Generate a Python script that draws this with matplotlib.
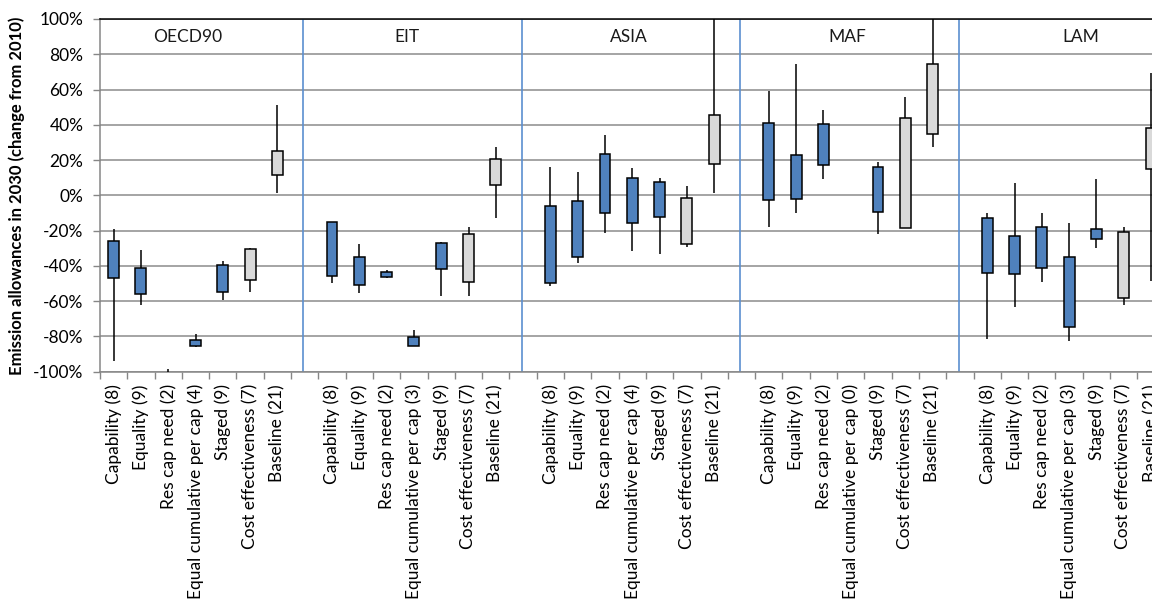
import matplotlib.pyplot as plt
import numpy as np

plt.rcParams['font.family'] = ['Lato', 'DejaVu Sans']

regions = ['OECD90', 'EIT', 'ASIA', 'MAF', 'LAM']
categories = ['Capability', 'Equality', 'Res cap need', 'Equal cumulative per cap',
              'Staged', 'Cost effectiveness', 'Baseline']
counts = {
    'OECD90': [8, 9, 2, 4, 9, 7, 21],
    'EIT':    [8, 9, 2, 3, 9, 7, 21],
    'ASIA':   [8, 9, 2, 4, 9, 7, 21],
    'MAF':    [8, 9, 2, 0, 9, 7, 21],
    'LAM':    [8, 9, 2, 3, 9, 7, 21],
}

# whisker low, box low, box high, whisker high (% change from 2010)
wlow = {
    'OECD90': [-93.7, -62.2, -110, -86.0, -59.3, -55.0, 1.2],
    'EIT':    [-49.9, -55.5, -47.0, -85.4, -56.9, -57.1, -13.0],
    'ASIA':   [-51.4, -38.2, -21.5, -31.4, -33.4, -29.4, 1.5],
    'MAF':    [-17.8, -9.8, 9.1, np.nan, -22.1, -18.3, 27.6],
    'LAM':    [-81.6, -63.1, -48.9, -82.4, -30.0, -62.2, -48.4],
}
blow = {
    'OECD90': [-47.0, -55.9, -104, -85.4, -54.8, -48.2, 11.5],
    'EIT':    [-45.7, -50.8, -46.1, -85.4, -41.8, -48.9, 5.9],
    'ASIA':   [-49.5, -34.8, -10.2, -15.5, -12.1, -27.8, 17.8],
    'MAF':    [-2.6, -1.9, 17.0, np.nan, -9.3, -18.3, 34.8],
    'LAM':    [-44.2, -44.8, -41.4, -74.8, -24.9, -58.4, 14.8],
}
bhigh = {
    'OECD90': [-25.9, -41.4, -100.5, -82.2, -39.5, -30.6, 25.2],
    'EIT':    [-14.9, -35.1, -43.3, -80.1, -26.8, -21.9, 20.5],
    'ASIA':   [-6.0, -3.4, 23.3, 9.7, 7.4, -1.5, 45.6],
    'MAF':    [40.9, 22.9, 40.5, np.nan, 16.3, 43.7, 74.5],
    'LAM':    [-13.0, -23.0, -17.8, -34.8, -19.2, -20.9, 38.4],
}
whigh = {
    'OECD90': [-19.2, -31.0, -98.5, -78.6, -37.2, -30.0, 51.2],
    'EIT':    [-14.9, -27.8, -42.3, -76.3, -26.3, -17.8, 27.3],
    'ASIA':   [16.3, 13.1, 34.2, 15.3, 9.7, 5.3, 130],
    'MAF':    [59.2, 74.5, 48.4, np.nan, 19.1, 55.9, 130],
    'LAM':    [-10.2, 6.8, -9.8, -15.8, 9.1, -17.8, 69.6],
}

blue = '#4F81BD'
grey = '#D9D9D9'
box_colors = [blue, blue, blue, blue, blue, grey, grey]

fig = plt.figure(figsize=(11.52, 5.99), dpi=100)
ax = fig.add_axes([0.0868, 0.3795, 0.9242, 0.5888])

xpos = []
xlabels = []
for r, reg in enumerate(regions):
    for c, cat in enumerate(categories):
        x = r * 8 + c
        xpos.append(x)
        xlabels.append('%s (%d)' % (cat, counts[reg][c]))
        if np.isnan(blow[reg][c]):
            continue
        ax.vlines(x, wlow[reg][c], whigh[reg][c], color='black', lw=1.1, zorder=3)
        ax.bar(x, bhigh[reg][c] - blow[reg][c], bottom=blow[reg][c], width=0.4,
               color=box_colors[c], edgecolor='black', lw=1.1, zorder=4)
    # blank slot between regions
    if r < len(regions) - 1:
        xpos.append(r * 8 + 7)
        xlabels.append('')
        ax.axvline(r * 8 + 6.95, color='#5B8FD0', lw=1.2, zorder=2)

region_x = [2.72, 10.75, 18.88, 26.86, 35.43]
for reg, rx in zip(regions, region_x):
    ax.text(rx, 90, reg, ha='center', va='center', fontsize=12.5, color='#1a1a1a')

ax.set_xlim(-0.5, 38.5)
ax.set_ylim(-100, 100)
ax.set_yticks(np.arange(-100, 101, 20))
ax.set_yticklabels(['%d%%' % v for v in np.arange(-100, 101, 20)], fontsize=12.5)
ax.set_xticks(xpos)
ax.set_xticklabels(xlabels, rotation=90, fontsize=12.5, va='top', ha='center')
ax.set_xticks(np.arange(-0.5, 39, 1), minor=True)
ax.tick_params(axis='x', which='major', length=0, pad=9)
ax.tick_params(axis='x', which='minor', length=5, color='#868686', width=1)
ax.tick_params(axis='y', length=5, color='#868686', width=1, pad=7)

ax.grid(axis='y', color='#8c8c8c', lw=1.1, zorder=1)
ax.set_axisbelow(True)
for s in ['left', 'bottom']:
    ax.spines[s].set_color('#868686')
    ax.spines[s].set_linewidth(1.1)
ax.spines['top'].set_color('black')
ax.spines['top'].set_linewidth(1.1)
ax.spines['right'].set_visible(False)

ax.set_ylabel('Emission allowances in 2030 (change from 2010)', fontsize=12,
              fontweight='bold', labelpad=6)

plt.savefig('out.png', dpi=100)
